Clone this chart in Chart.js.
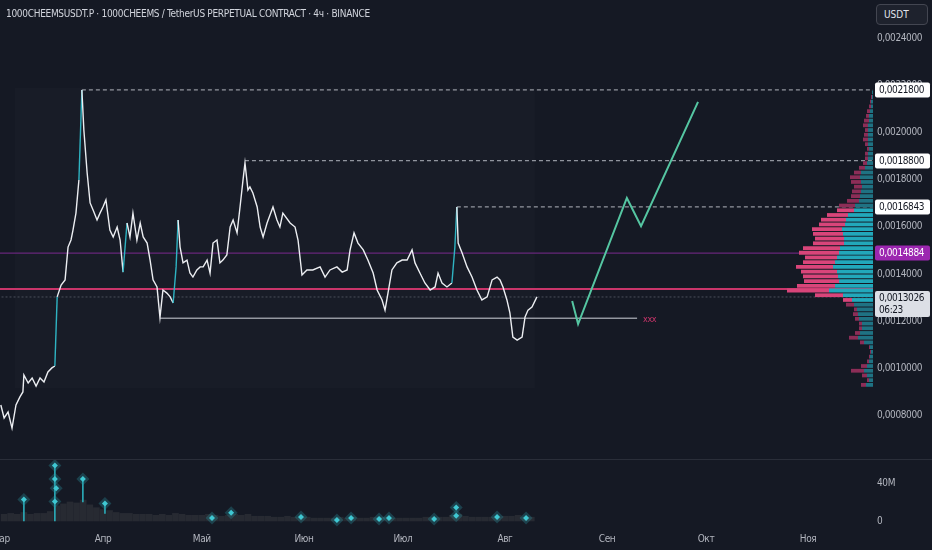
<!DOCTYPE html>
<html lang="ru">
<head>
<meta charset="UTF-8" />
<title>1000CHEEMSUSDT.P · 4ч</title>
<script src="https://cdn.jsdelivr.net/npm/chart.js"></script>
<style>
  html, body { margin: 0; padding: 0; background: #151924; }
  #wrap { position: relative; width: 932px; height: 550px; overflow: hidden; background: #151924; }
  #mainBox { position: absolute; left: 0; top: 0; width: 932px; height: 550px; }
  #profileBox { position: absolute; }
  .title {
    position: absolute; left: 6px; top: 8px;
    font: 10px 'DejaVu Sans Condensed', 'Liberation Sans Narrow', sans-serif;
    letter-spacing: -0.3px; color: #d1d4dc; white-space: nowrap;
  }
  .unit {
    position: absolute; left: 876px; top: 4px; width: 52px; height: 21px;
    box-sizing: border-box; border: 1px solid #434651; border-radius: 4px;
    background: #1e222d; color: #e0e3eb; padding-left: 7px;
    font: 10px 'DejaVu Sans Condensed', sans-serif; line-height: 19px;
  }
</style>
</head>
<body>
<div id="wrap">
  <div id="mainBox"><canvas id="mainChart"></canvas></div>
  <div id="profileBox"><canvas id="profileChart"></canvas></div>
  <div class="title">1000CHEEMSUSDT.P · 1000CHEEMS / TetherUS PERPETUAL CONTRACT · 4ч · BINANCE</div>
  <div class="unit">USDT</div>
</div>

<script>
// x axis: days since 1 March
const monthStarts = [0, 31, 61, 92, 122, 153, 184, 214, 245];
const monthNames = ["Мар", "Апр", "Май", "Июн", "Июл", "Авг", "Сен", "Окт", "Ноя"];
const priceTicks = [0.0008, 0.0010, 0.0012, 0.0014, 0.0016, 0.0018, 0.0020, 0.0022, 0.0024];
const volTicks = [0, 40000000];

// price line
const priceDays = [
  0, 1.0, 2.2, 3.4, 4.6, 5.8, 6.7, 7.0, 8.3, 9.5,
  10.7, 11.9, 13.1, 14.3, 15.5, 16.4, 17.1, 18.3, 19.5, 20.4,
  21.3, 21.9, 22.8, 23.7, 24.6, 25.2, 26.2, 27.1, 28.0, 29.2,
  30.1, 31.0, 31.9, 33.1, 34.1, 35.3, 36.2, 37.1, 38.3, 39.2,
  40.1, 41.3, 42.3, 43.2, 44.4, 45.3, 46.2, 47.4, 48.3, 49.2,
  50.4, 51.4, 52.3, 53.2, 53.8, 54.4, 55.3, 56.5, 57.4, 58.3,
  59.5, 60.5, 61.4, 62.6, 63.5, 64.4, 65.6, 66.5, 67.4, 68.6,
  69.6, 70.5, 71.7, 72.6, 73.5, 74.1, 75.0, 75.6, 76.5, 77.8,
  78.7, 79.6, 80.8, 81.7, 82.6, 83.8, 84.7, 85.6, 87.8, 89.3,
  90.2, 91.4, 92.9, 94.7, 96.9, 98.4, 99.9, 102.0, 103.6, 105.1,
  106.0, 107.2, 108.4, 110.0, 111.4, 113.0, 114.2, 115.7, 116.6, 117.5,
  118.7, 120.2, 121.8, 123.3, 124.8, 125.7, 127.2, 128.7, 130.3, 131.8,
  132.7, 133.9, 135.4, 136.9, 137.8, 138.4, 138.8, 140.0, 141.5, 143.0,
  144.5, 146.0, 147.6, 149.1, 150.6, 151.5, 152.4, 153.6, 154.5, 155.4,
  156.7, 158.2, 159.1, 160.0, 161.2, 162.7
];
const priceValues = [
  0.000845, 0.000790, 0.000815, 0.000747, 0.000845, 0.000879, 0.000900, 0.000972, 0.000938, 0.000959,
  0.000925, 0.000959, 0.000942, 0.000985, 0.001002, 0.001010, 0.001303, 0.001353, 0.001375, 0.001514,
  0.001544, 0.001586, 0.001658, 0.001798, 0.002180, 0.002010, 0.001828, 0.001701, 0.001671, 0.001629,
  0.001658, 0.001684, 0.001714, 0.001586, 0.001557, 0.001599, 0.001544, 0.001408, 0.001616, 0.001557,
  0.001658, 0.001544, 0.001616, 0.001557, 0.001531, 0.001459, 0.001375, 0.001345, 0.001215, 0.001332,
  0.001319, 0.001303, 0.001277, 0.001430, 0.001629, 0.001514, 0.001447, 0.001459, 0.001404, 0.001387,
  0.001417, 0.001430, 0.001430, 0.001459, 0.001404, 0.001531, 0.001544, 0.001447, 0.001459, 0.001481,
  0.001599, 0.001629, 0.001574, 0.001684, 0.001798, 0.001870, 0.001756, 0.001769, 0.001743, 0.001684,
  0.001599, 0.001557, 0.001616, 0.001650, 0.001684, 0.001629, 0.001599, 0.001658, 0.001616, 0.001599,
  0.001544, 0.001396, 0.001417, 0.001417, 0.001430, 0.001387, 0.001417, 0.001430, 0.001408, 0.001417,
  0.001502, 0.001574, 0.001531, 0.001502, 0.001459, 0.001404, 0.001332, 0.001290, 0.001247, 0.001319,
  0.001417, 0.001447, 0.001459, 0.001459, 0.001502, 0.001447, 0.001404, 0.001362, 0.001332, 0.001345,
  0.001404, 0.001362, 0.001345, 0.001362, 0.001514, 0.001684, 0.001531, 0.001489, 0.001430, 0.001387,
  0.001332, 0.001290, 0.001303, 0.001375, 0.001387, 0.001375, 0.001345, 0.001290, 0.001235, 0.001133,
  0.001120, 0.001133, 0.001218, 0.001247, 0.001260, 0.001303
];

// drawn projection
const projDays = [173.4, 175.2, 190.0, 194.3, 211.6];
const projValues = [0.001286, 0.001188, 0.001722, 0.001603, 0.002129];

// levels
const highDays = [24.6, 74.1, 138.4];
const highLevels = [0.00218, 0.00188, 0.0016843];
const pocLevel = 0.001336;
const vahLevel = 0.0014884;
const lastPrice = 0.0013026;
const lastTimer = "06:23";
const supportLevel = 0.0012127;
const supportFrom = 48.3;
const supportTo = 193.1;
const profileRangeDays = [4.3, 162.1];
const profileRangePrices = [0.000917, 0.002188];

// volume pane
const volDays = [
  1, 3, 5, 7, 9, 11, 13, 15, 17, 19,
  21, 23, 25, 27, 29, 31, 33, 35, 37, 39,
  41, 43, 45, 47, 49, 51, 53, 55, 57, 59,
  61, 63, 65, 67, 69, 71, 73, 75, 77, 79,
  81, 83, 85, 87, 89, 91, 93, 95, 97, 99,
  101, 103, 105, 107, 109, 111, 113, 115, 117, 119,
  121, 123, 125, 127, 129, 131, 133, 135, 137, 139,
  141, 143, 145, 147, 149, 151, 153, 155, 157, 159,
  161
];
const volValues = [
  7e6, 8e6, 7e6, 9e6, 7e6, 8e6, 8e6, 10e6, 16e6, 18e6,
  20e6, 19e6, 22e6, 17e6, 14e6, 12e6, 11e6, 9e6, 8e6, 8e6,
  7e6, 7e6, 7e6, 6e6, 7e6, 6e6, 8e6, 7e6, 6e6, 6e6,
  6e6, 7e6, 6e6, 5e6, 6e6, 7e6, 6e6, 7e6, 5e6, 5e6,
  5e6, 4e6, 4e6, 5e6, 4e6, 4e6, 4e6, 3e6, 3e6, 3e6,
  3e6, 4e6, 3e6, 4e6, 3e6, 3e6, 4e6, 4e6, 4e6, 3e6,
  3e6, 3e6, 3e6, 3e6, 4e6, 4e6, 4e6, 4e6, 6e6, 7e6,
  5e6, 4e6, 4e6, 4e6, 4e6, 4e6, 5e6, 5e6, 6e6, 4e6,
  4e6
];
const whaleDays = [7.0, 16.4, 16.4, 16.8, 16.4, 24.9, 31.6, 64.1, 69.9, 91.1, 102.0, 106.3, 114.8, 117.8, 131.5, 138.2, 138.2, 150.6, 159.4];
const whaleVol = [22.7e6, 58.4e6, 44.3e6, 34.6e6, 20.5e6, 44.3e6, 18.4e6, 3.2e6, 8.6e6, 4.3e6, 1.1e6, 3.2e6, 2.2e6, 3.2e6, 2.2e6, 14.1e6, 5.4e6, 4.3e6, 3.2e6];
const stemDays = [7.0, 16.4, 24.9, 31.6];
const stemLow = [0, 0, 20e6, 8e6];
const stemHigh = [22.7e6, 58.4e6, 44.3e6, 18.4e6];

// volume profile (bin centres, buy / sell volume)
const profilePrices = [
  0.00093, 0.00095, 0.00097, 0.00099, 0.00101, 0.00103, 0.00105, 0.00107, 0.00109, 0.00111,
  0.00113, 0.00115, 0.00117, 0.00119, 0.00121, 0.00123, 0.00125, 0.00127, 0.00129, 0.00131,
  0.00133, 0.00135, 0.00137, 0.00139, 0.00141, 0.00143, 0.00145, 0.00147, 0.00149, 0.00151,
  0.00153, 0.00155, 0.00157, 0.00159, 0.00161, 0.00163, 0.00165, 0.00167, 0.00169, 0.00171,
  0.00173, 0.00175, 0.00177, 0.00179, 0.00181, 0.00183, 0.00185, 0.00187, 0.00189, 0.00191,
  0.00193, 0.00195, 0.00197, 0.00199, 0.00201, 0.00203, 0.00205, 0.00207, 0.00209, 0.00211,
  0.00213, 0.00215, 0.00217
];
const profileBuy = [
  7, 4, 6, 9, 6, 4, 3, 2, 3, 9,
  15, 13, 11, 11, 14, 15, 16, 19, 21, 30,
  44, 38, 34, 35, 36, 40, 38, 36, 34, 33,
  29, 29, 30, 31, 28, 27, 25, 19, 18, 14,
  13, 12, 11, 12, 13, 12, 8, 6, 5, 5,
  4, 5, 5, 5, 5, 5, 4, 4, 3, 2,
  2, 1, 1
];
const profileSell = [
  5, 2, 5, 13, 6, 2, 1, 1, 1, 4,
  9, 5, 3, 3, 4, 5, 3, 8, 9, 28,
  42, 38, 35, 35, 36, 37, 32, 32, 40, 37,
  31, 29, 30, 30, 26, 25, 21, 17, 16, 12,
  9, 9, 8, 10, 10, 7, 6, 4, 3, 3,
  2, 3, 5, 4, 3, 5, 5, 3, 3, 2,
  1, 1, 0
];
const valueArea = [0.00128, 0.00168];

const priceMin = 0.000616;
const priceMax = 0.002561;
const FONT = "'DejaVu Sans Condensed', 'Liberation Sans Narrow', sans-serif";
Chart.defaults.font.family = FONT;
Chart.defaults.font.size = 10;
Chart.defaults.color = "#b2b5be";

const fmtPrice = v => v.toFixed(7).replace(".", ",");
const pts = (xs, ys) => xs.map((x, i) => ({ x: x, y: ys[i] }));
const xEnd = 264.7;

function levelLine(from, to, level, color, width, dash) {
    return {
        type: "line", yAxisID: "y",
        data: [{ x: from, y: level }, { x: to, y: level }],
        borderColor: color, borderWidth: width, borderDash: dash || [],
        pointRadius: 0, order: 6
    };
}

const datasets = [
    // faint profile range box
    {
        type: "line", yAxisID: "y",
        data: [{ x: profileRangeDays[0], y: profileRangePrices[1] }, { x: profileRangeDays[1], y: profileRangePrices[1] }],
        borderWidth: 0, pointRadius: 0, fill: "+1", backgroundColor: "rgba(255,255,255,0.014)", order: 30
    },
    {
        type: "line", yAxisID: "y",
        data: [{ x: profileRangeDays[0], y: profileRangePrices[0] }, { x: profileRangeDays[1], y: profileRangePrices[0] }],
        borderWidth: 0, pointRadius: 0, order: 30
    },
    levelLine(-1, xEnd, lastPrice, "#4c505b", 1, [2, 2]),
    levelLine(-1, xEnd, pocLevel, "#c9356a", 2),
    levelLine(-1, xEnd, vahLevel, "#7b2a8f", 1),
    levelLine(supportFrom, supportTo, supportLevel, "#d1d4dc", 1),
    ...highDays.map((d, i) => levelLine(d, xEnd, highLevels[i], "#b2b5be", 1, [4, 3])),
    {
        type: "line", yAxisID: "y",
        data: pts(priceDays, priceValues),
        borderColor: "#eceef2", borderWidth: 1.4, pointRadius: 0, tension: 0, order: 2,
        segment: {
            borderColor: c => (c.p1.parsed.y - c.p0.parsed.y > 0.00015 ? "#2fb3c2" : undefined)
        }
    },
    {
        type: "line", yAxisID: "y",
        data: pts(projDays, projValues),
        borderColor: "#55c6a2", borderWidth: 2, pointRadius: 0, order: 3
    },
    // volume pane
    {
        type: "bar", yAxisID: "yVol",
        data: pts(volDays, volValues),
        backgroundColor: "#272a32", barThickness: 6, grouped: false, order: 12
    },
    {
        type: "bar", yAxisID: "yVol",
        data: stemDays.map((d, i) => ({ x: d, y: [stemLow[i], stemHigh[i]] })),
        backgroundColor: "#2aa9b6", barThickness: 1, grouped: false, order: 5
    },
    {
        type: "line", yAxisID: "yVol", showLine: false,
        data: pts(whaleDays, whaleVol),
        pointStyle: "rectRot", pointRadius: 6.5, pointBorderWidth: 0,
        pointBackgroundColor: "rgba(42,150,162,0.32)", order: 4
    },
    {
        type: "line", yAxisID: "yVol", showLine: false,
        data: pts(whaleDays, whaleVol),
        pointStyle: "rectRot", pointRadius: 3, pointBorderWidth: 0,
        pointBackgroundColor: "#3fc7d2", order: 1
    }
];

const priceTags = [
    { v: highLevels[0], bg: "#ffffff", fg: "#131722" },
    { v: highLevels[1], bg: "#ffffff", fg: "#131722" },
    { v: highLevels[2], bg: "#ffffff", fg: "#131722" },
    { v: vahLevel, bg: "#9c27b0", fg: "#ffffff" },
    { v: lastPrice, bg: "#dcdfe6", fg: "#131722", sub: lastTimer }
];

const overlayPlugin = {
    id: "overlay",
    beforeDraw(chart) {
        chart.ctx.letterSpacing = "-0.4px";
    },
    afterDraw(chart) {
        const { ctx, chartArea, scales } = chart;
        const y = scales.y, x = scales.x, yv = scales.yVol;
        ctx.save();
        // pane separator
        ctx.strokeStyle = "#2a2e39";
        ctx.lineWidth = 1;
        ctx.beginPath();
        ctx.moveTo(0, yv.top + 0.5);
        ctx.lineTo(chart.width, yv.top + 0.5);
        ctx.stroke();

        // label at the end of the support line
        ctx.fillStyle = "#c9356a";
        ctx.font = "9px " + FONT;
        ctx.textBaseline = "middle";
        ctx.fillText("xxx", x.getPixelForValue(supportTo) + 6, y.getPixelForValue(supportLevel) + 1);

        // price tags on the axis
        ctx.font = "10px " + FONT;
        priceTags.forEach(t => {
            const py = Math.round(y.getPixelForValue(t.v));
            const left = chartArea.right + 2;
            const top = t.sub ? py - 6 : py - 7.5;
            const h = t.sub ? 26 : 15;
            ctx.fillStyle = t.bg;
            ctx.beginPath();
            ctx.roundRect(left, top, 55, h, 2);
            ctx.fill();
            ctx.fillStyle = t.fg;
            ctx.textBaseline = "middle";
            ctx.fillText(fmtPrice(t.v), left + 4, t.sub ? top + 7 : py + 0.5);
            if (t.sub) ctx.fillText(t.sub, left + 4, top + 19);
        });
        ctx.restore();
    }
};

const mainChart = new Chart(document.getElementById("mainChart"), {
    type: "line",
    data: { datasets: datasets },
    options: {
        responsive: true,
        maintainAspectRatio: false,
        animation: false,
        layout: { padding: 0, autoPadding: false },
        plugins: { legend: { display: false }, tooltip: { enabled: false }, title: { display: false } },
        scales: {
            x: {
                type: "linear", min: -0.25, max: xEnd, offset: false,
                grid: { display: false, drawTicks: false }, border: { display: false },
                ticks: {
                    padding: 5, maxRotation: 0, autoSkip: false, color: "#b2b5be",
                    callback: v => monthNames[monthStarts.indexOf(v)] || ""
                },
                afterBuildTicks: s => { s.ticks = monthStarts.map(v => ({ value: v })); },
                afterFit: s => { s.height = 22; s.paddingLeft = 0; s.paddingRight = 0; }
            },
            y: {
                type: "linear", position: "right", stack: "panes", stackWeight: 459,
                min: priceMin, max: priceMax,
                grid: { display: false, drawTicks: false }, border: { display: false },
                ticks: { padding: 4, color: "#b2b5be", callback: v => fmtPrice(v) },
                afterBuildTicks: s => { s.ticks = priceTicks.map(v => ({ value: v })); },
                afterFit: s => { s.width = 59; s.paddingTop = 0; s.paddingBottom = 0; }
            },
            yVol: {
                type: "linear", position: "right", stack: "panes", stackWeight: 69,
                min: -7.4e6, max: 65.3e6,
                grid: { display: false, drawTicks: false }, border: { display: false },
                ticks: { padding: 4, color: "#b2b5be", callback: v => (v === 0 ? "0" : Math.round(v / 1e6) + "M") },
                afterBuildTicks: s => { s.ticks = volTicks.map(v => ({ value: v })); },
                afterFit: s => { s.width = 59; s.paddingTop = 0; s.paddingBottom = 0; }
            }
        }
    },
    plugins: [overlayPlugin]
});

// volume profile drawn on top of the price pane, sharing its price range
const ys = mainChart.scales.y;
const profileWidth = 110;
const pBox = document.getElementById("profileBox");
pBox.style.left = (mainChart.chartArea.right - profileWidth) + "px";
pBox.style.top = ys.top + "px";
pBox.style.width = profileWidth + "px";
pBox.style.height = (ys.bottom - ys.top) + "px";

const inVA = p => p >= valueArea[0] && p <= valueArea[1];

new Chart(document.getElementById("profileChart"), {
    type: "bar",
    data: {
        datasets: [
            {
                data: pts(profileBuy, profilePrices),
                backgroundColor: c => (c.raw && inVA(c.raw.y) ? "#22a8bb" : "#1f7283")
            },
            {
                data: pts(profileSell, profilePrices),
                backgroundColor: c => (c.raw && inVA(c.raw.y) ? "#d9457a" : "#8c2d57")
            }
        ]
    },
    options: {
        indexAxis: "y",
        responsive: true,
        maintainAspectRatio: false,
        animation: false,
        layout: { padding: 0, autoPadding: false },
        barPercentage: 0.8,
        categoryPercentage: 1,
        plugins: { legend: { display: false }, tooltip: { enabled: false } },
        scales: {
            y: { type: "linear", min: priceMin, max: priceMax, display: false, stacked: true, offset: false },
            x: { type: "linear", min: 0, max: profileWidth, reverse: true, display: false, stacked: true }
        }
    }
});
</script>
</body>
</html>
